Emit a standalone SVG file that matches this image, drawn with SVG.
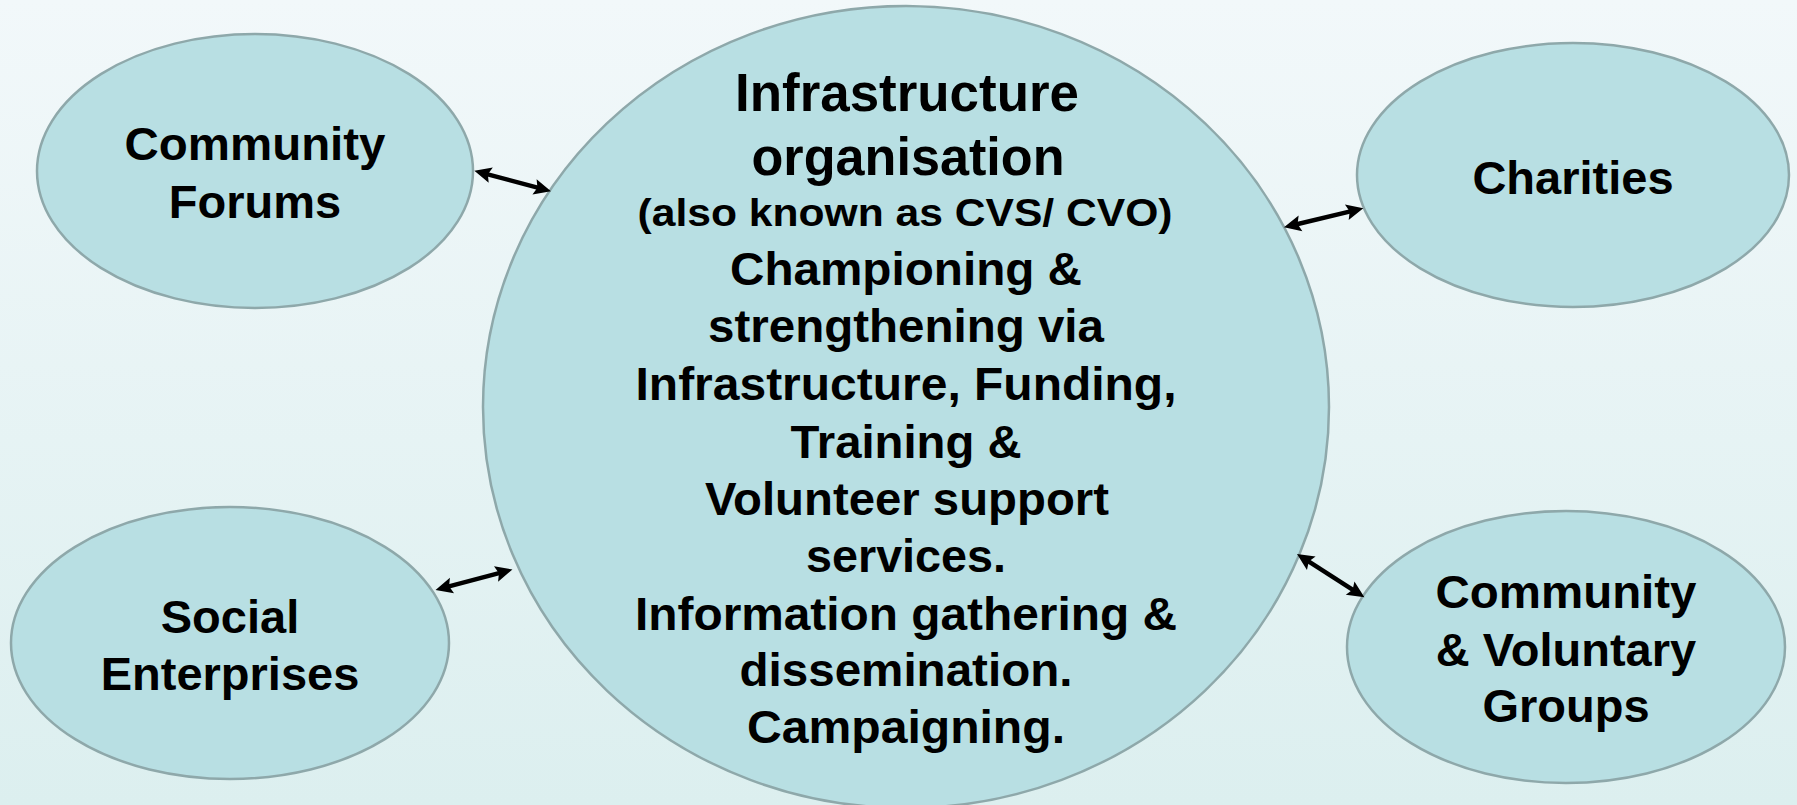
<svg xmlns="http://www.w3.org/2000/svg" width="1797" height="805" viewBox="0 0 1797 805">
  <defs>
    <linearGradient id="bg" x1="0" y1="0" x2="0" y2="1">
      <stop offset="0" stop-color="#f2f8fa"/>
      <stop offset="1" stop-color="#dcefef"/>
    </linearGradient>
    <marker id="head" markerUnits="userSpaceOnUse" markerWidth="22" markerHeight="18" refX="7" refY="8" orient="auto-start-reverse" overflow="visible">
      <path d="M0,0 L17,8 L0,16 L3,8 Z" fill="#000"/>
    </marker>
    <style>
      .node { fill: #b8dfe3; stroke: #8ea8aa; stroke-width: 2.5; }
      .lbl { font-family: "Liberation Sans", Arial, sans-serif; font-weight: bold; fill: #000; text-anchor: middle; }
      .side { font-size: 47px; }
      .big { font-size: 54px; }
      .mid { font-size: 46px; }
      .small { font-size: 38px; }
      .conn { stroke: #000; stroke-width: 4.5; fill: none; marker-start: url(#head); marker-end: url(#head); }
    </style>
  </defs>
  <rect x="0" y="0" width="1797" height="805" fill="url(#bg)"/>

  <g id="community-forums">
    <ellipse class="node" cx="255" cy="171" rx="218" ry="137"/>
    <text class="lbl side" x="255" y="160" textLength="261" lengthAdjust="spacingAndGlyphs">Community</text>
    <text class="lbl side" x="255" y="218">Forums</text>
  </g>

  <g id="charities">
    <ellipse class="node" cx="1573" cy="175" rx="216" ry="132"/>
    <text class="lbl side" x="1573" y="194">Charities</text>
  </g>

  <g id="social-enterprises">
    <ellipse class="node" cx="230" cy="643" rx="219" ry="136"/>
    <text class="lbl side" x="230" y="633">Social</text>
    <text class="lbl side" x="230" y="690">Enterprises</text>
  </g>

  <g id="community-voluntary-groups">
    <ellipse class="node" cx="1566" cy="647" rx="219" ry="136"/>
    <text class="lbl side" x="1566" y="608" textLength="261" lengthAdjust="spacingAndGlyphs">Community</text>
    <text class="lbl side" x="1566" y="666">&amp; Voluntary</text>
    <text class="lbl side" x="1566" y="722">Groups</text>
  </g>

  <g id="infrastructure-organisation">
    <ellipse class="node" cx="906" cy="407" rx="423" ry="401"/>
    <text class="lbl big" x="907" y="111" textLength="344" lengthAdjust="spacingAndGlyphs">Infrastructure</text>
    <text class="lbl big" x="908" y="175" textLength="313" lengthAdjust="spacingAndGlyphs">organisation</text>
    <text class="lbl small" x="905" y="226" textLength="535" lengthAdjust="spacingAndGlyphs">(also known as CVS/ CVO)</text>
    <text class="lbl mid" x="906" y="285" textLength="352" lengthAdjust="spacingAndGlyphs">Championing &amp;</text>
    <text class="lbl mid" x="906" y="342" textLength="396" lengthAdjust="spacingAndGlyphs">strengthening via</text>
    <text class="lbl mid" x="906" y="400" textLength="541" lengthAdjust="spacingAndGlyphs">Infrastructure, Funding,</text>
    <text class="lbl mid" x="906" y="458" textLength="231" lengthAdjust="spacingAndGlyphs">Training &amp;</text>
    <text class="lbl mid" x="907" y="515" textLength="404" lengthAdjust="spacingAndGlyphs">Volunteer support</text>
    <text class="lbl mid" x="906" y="572" textLength="200" lengthAdjust="spacingAndGlyphs">services.</text>
    <text class="lbl mid" x="906" y="630" textLength="542" lengthAdjust="spacingAndGlyphs">Information gathering &amp;</text>
    <text class="lbl mid" x="906" y="686" textLength="333" lengthAdjust="spacingAndGlyphs">dissemination.</text>
    <text class="lbl mid" x="906" y="743" textLength="318" lengthAdjust="spacingAndGlyphs">Campaigning.</text>
  </g>

  <g id="connectors">
    <line class="conn" x1="484.0" y1="173.3" x2="541.3" y2="188.7"/>
    <line class="conn" x1="1293.7" y1="225.0" x2="1353.6" y2="210.6"/>
    <line class="conn" x1="445.2" y1="587.4" x2="502.8" y2="572.1"/>
    <line class="conn" x1="1305.4" y1="559.4" x2="1356.0" y2="591.9"/>
  </g>
</svg>
